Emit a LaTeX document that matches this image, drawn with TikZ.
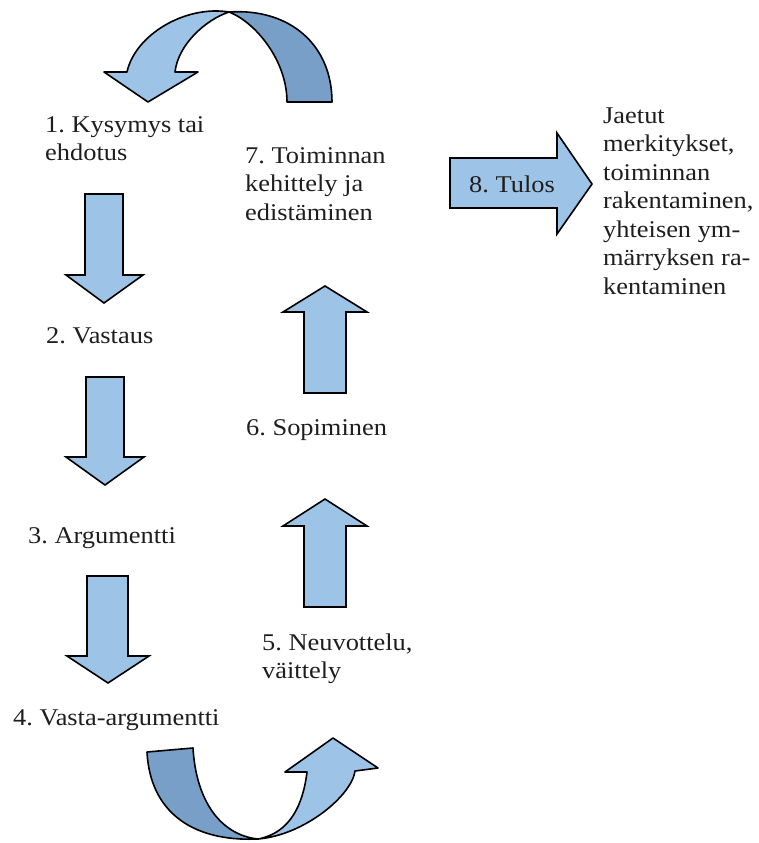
\documentclass[tikz,border=0pt]{standalone}
\usepackage{fontspec}
\setmainfont{Liberation Serif}[FakeStretch=1.1]
\frenchspacing
\definecolor{lightblue}{RGB}{157,195,230}
\definecolor{darkblue}{RGB}{120,159,200}
\definecolor{inkgray}{RGB}{30,30,30}
\tikzset{
  blockarrow/.style={draw=black, line width=1.6pt, line join=miter, fill=lightblue},
  backband/.style={draw=black, line width=1.6pt, line join=round, fill=darkblue},
  label/.style={anchor=base west, inner sep=0pt, text=inkgray,
    font=\fontsize{24}{28.5}\selectfont, align=left},
}
\begin{document}
\begin{tikzpicture}[x=1pt, y=-1pt]
\useasboundingbox (0,0) rectangle (758,843);

% step labels (placed by the baseline of their last line)
\node[label] (q1) at (45,160.5) {1. Kysymys tai\\ehdotus};
\node[label] (a2) at (46,343) {2. Vastaus};
\node[label] (r3) at (28,543) {3. Argumentti};
\node[label] (c4) at (13,725) {4. Vasta-argumentti};
\node[label] (n5) at (262,678.5) {5. Neuvottelu,\\väittely};
\node[label] (s6) at (246,435) {6. Sopiminen};
\node[label] (d7) at (245,220) {7. Toiminnan\\kehittely ja\\edistäminen};
\node[label] (o9) at (603,294) {Jaetut\\merkitykset,\\toiminnan\\rakentaminen,\\yhteisen ym-\\märryksen ra-\\kentaminen};

% downward block arrows on the left
\draw[blockarrow] (85,194) -- (123,194) -- (123,275) -- (143,275) -- (104,303) -- (66,275) -- (85,275) -- cycle;
\draw[blockarrow] (86,377) -- (124,377) -- (124,457) -- (144,457) -- (105,485) -- (66,457) -- (86,457) -- cycle;
\draw[blockarrow] (87,576) -- (128,576) -- (128,656) -- (149,656) -- (108,683) -- (67,656) -- (87,656) -- cycle;

% upward block arrows on the right
\draw[blockarrow] (304,607) -- (346,607) -- (346,526) -- (367,526) -- (325,499) -- (283,526) -- (304,526) -- cycle;
\draw[blockarrow] (304,393) -- (346,393) -- (346,312) -- (367,312) -- (325,286) -- (283,312) -- (304,312) -- cycle;

% result arrow
\draw[blockarrow] (450,158) -- (557,158) -- (557,133) -- (592,184) -- (557,234) -- (557,208) -- (450,208) -- cycle;
\node[anchor=center, inner sep=0pt, text=inkgray, font=\fontsize{24}{28.5}\selectfont] (t8) at (512,184) {8. Tulos};

% top twisted ribbon arrow: back band, then front band with head
\draw[backband] (229,12) .. controls (290,8) and (332,45) .. (332,102)
  -- (287,102) .. controls (287,60) and (255,22) .. (229,12) -- cycle;
\draw[blockarrow, line join=round] (229,12) .. controls (185,5) and (135,35) .. (127,72)
  -- (104,72) -- (148,102) -- (198,72) -- (175,72)
  .. controls (178,45) and (205,20) .. (229,12) -- cycle;

% bottom twisted ribbon arrow
\draw[backband] (147,752) -- (193,748) .. controls (196,800) and (220,835) .. (258,839)
  .. controls (190,842) and (150,810) .. (147,752) -- cycle;
\draw[blockarrow, line join=round] (258,839) .. controls (305,835) and (352,795) .. (355,771)
  -- (378,768) -- (333,738) -- (285,772) -- (307,772)
  .. controls (303,805) and (290,833) .. (258,839) -- cycle;
\end{tikzpicture}
\end{document}
